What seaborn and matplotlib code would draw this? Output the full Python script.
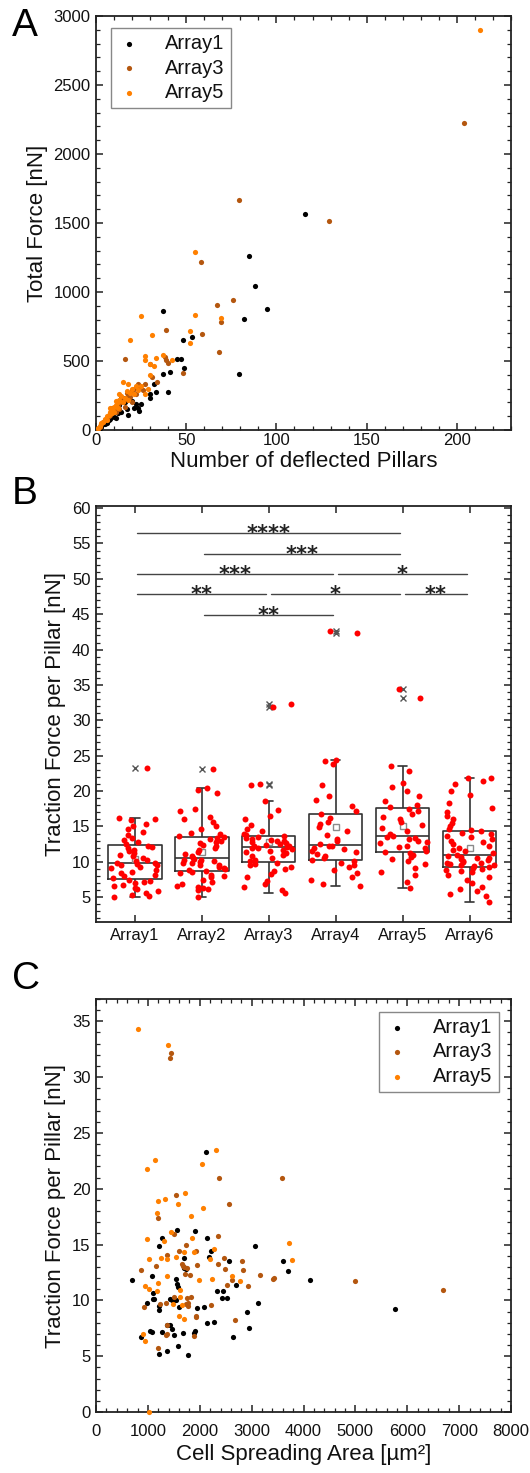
import numpy as np
import pandas as pd
import matplotlib
matplotlib.use("Agg")
import matplotlib.pyplot as plt
import seaborn as sns
from matplotlib.ticker import MultipleLocator

# ---------------- data ----------------
series_names = ["Array1", "Array3", "Array5"]
series_colors = ["#000000", "#B4570F", "#FF8000"]

# Panel A: number of deflected pillars vs total force [nN]
A1_pillars = [116, 85, 88, 95, 37, 82, 48, 53, 79, 45, 47, 49, 41, 37, 32, 30, 30, 33, 40, 25,
              24, 21, 23, 18, 15, 14, 19, 12, 10, 8, 6, 5, 3, 2, 1, 4, 7, 9, 11, 13,
              16, 17, 20, 22, 6, 3, 14, 11]
A1_force = [1567, 1263, 1043, 874, 865, 804, 650, 671, 408, 517, 512, 447, 420, 403, 331, 258, 229, 273, 278, 188,
            138, 157, 157, 109, 234, 229, 266, 120, 95, 80, 60, 45, 30, 15, 8, 40, 70, 100, 140, 180,
            200, 150, 210, 190, 50, 20, 130, 90]
A3_pillars = [204, 79, 129, 58, 67, 76, 69, 39, 59, 68, 16, 38, 39, 40, 48, 30, 31, 34, 23, 24,
              20, 18, 15, 12, 10, 8, 6, 4, 3, 2, 1, 14, 17, 19, 21, 22, 11, 9, 13, 7,
              5, 26, 27, 20, 16, 0]
A3_force = [2224, 1664, 1514, 1220, 908, 939, 782, 727, 698, 568, 512, 526, 507, 483, 415, 478, 386, 350, 333, 314,
            290, 250, 220, 180, 150, 110, 80, 60, 40, 20, 10, 200, 270, 240, 300, 260, 130, 160, 150, 100,
            70, 290, 330, 200, 170, 0]
A5_pillars = [213, 55, 55, 69, 25, 52, 31, 19, 52, 27, 27, 33, 37, 42, 30, 32, 30, 15, 18, 25,
              29, 27, 20, 17, 14, 13, 12, 11, 10, 9, 8, 7, 6, 5, 4, 3, 2, 1, 16, 19,
              21, 23, 15, 12, 10, 8, 11, 13, 18, 22, 6, 9]
A5_force = [2898, 1292, 831, 809, 826, 715, 691, 654, 633, 536, 505, 519, 546, 507, 478, 464, 398, 345, 333, 321,
            295, 261, 300, 280, 250, 220, 200, 180, 170, 150, 130, 110, 100, 80, 60, 50, 30, 15, 230, 270,
            260, 290, 200, 160, 130, 160, 210, 260, 220, 320, 70, 120]

# Panel B: traction force per pillar [nN] per array
box_categories = ["Array1", "Array2", "Array3", "Array4", "Array5", "Array6"]
B_array1 = [5.0, 5.2, 5.3, 5.6, 5.9, 6.1, 6.3, 6.6, 6.8, 7.0, 7.2, 7.3,
            7.5, 7.7, 8.0, 8.2, 8.4, 8.6, 8.9, 9.1, 9.3, 9.5, 9.6, 9.7, 9.8,
            9.9, 10.1, 10.3, 10.5, 10.8, 11.0, 11.2, 11.5, 11.7, 11.9, 12.1, 12.3,
            12.5, 12.8, 13.1, 13.4, 13.8, 14.2, 14.6, 15.1, 15.4, 15.9, 16.0, 16.2, 23.3]
B_array2 = [5.1, 6.0, 6.1, 6.3, 6.4, 6.6, 6.9, 7.2, 7.5, 7.8, 8.0, 8.2, 8.4, 8.5,
            8.7, 8.9, 9.0, 9.2, 9.3, 9.5, 9.6, 9.8, 9.9, 10.0, 10.1, 10.2, 10.3, 10.4,
            10.6, 10.8, 11.1, 11.4, 11.7, 12.0, 12.2, 12.4, 12.6, 12.8, 13.0, 13.2, 13.4, 13.5,
            13.7, 13.9, 14.1, 14.6, 15.0, 15.6, 16.0, 16.3, 17.2, 17.5, 19.7, 20.1, 20.4, 23.1]
B_array3 = [5.6, 6.0, 6.4, 6.9, 7.3, 7.8, 8.3, 8.7, 9.0, 9.3, 9.5, 9.7, 9.9,
            10.1, 10.3, 10.5, 10.8, 11.0, 11.2, 11.4, 11.5, 11.7, 11.8, 11.9, 12.0, 12.1,
            12.2, 12.3, 12.4, 12.5, 12.6, 12.8, 12.9, 13.0, 13.1, 13.3, 13.4, 13.5, 13.6,
            13.8, 14.0, 14.3, 14.6, 15.2, 16.0, 16.5, 17.4, 18.6, 20.9, 21.0, 31.9, 32.3]
B_array4 = [6.6, 6.9, 7.4, 7.9, 8.4, 8.8, 9.3, 9.6, 9.9, 10.1,
            10.3, 10.5, 10.8, 11.1, 11.4, 11.6, 11.8, 12.0, 12.2, 12.3,
            12.5, 12.9, 13.3, 13.8, 14.3, 14.9, 15.3, 15.7, 16.2, 16.7,
            17.2, 17.9, 18.8, 19.3, 20.8, 23.8, 24.2, 24.4, 42.3, 42.6]
B_array5 = [6.3, 7.2, 8.1, 8.6, 9.2, 9.7, 10.1, 10.4, 10.7, 11.0, 11.2,
            11.4, 11.6, 11.9, 12.1, 12.3, 12.6, 12.8, 13.0, 13.2, 13.4, 13.5,
            13.7, 14.0, 14.4, 14.8, 15.2, 15.6, 16.0, 16.4, 16.8, 17.2, 17.5,
            17.7, 18.1, 18.6, 19.3, 20.0, 20.6, 21.2, 22.8, 23.5, 33.1, 34.5]
B_array6 = [4.3, 5.2, 5.5, 5.9, 6.2, 6.5, 7.0, 7.5, 7.8, 8.2, 8.5, 8.7, 8.9, 9.0, 9.1,
            9.3, 9.4, 9.5, 9.6, 9.7, 9.8, 9.9, 10.0, 10.1, 10.3, 10.4, 10.5, 10.6, 10.7, 10.8,
            11.0, 11.2, 11.5, 11.7, 12.0, 12.2, 12.5, 12.8, 13.0, 13.3, 13.5, 13.7, 13.9, 14.1, 14.3,
            14.5, 14.7, 15.0, 15.5, 16.0, 16.5, 17.0, 17.6, 18.3, 19.4, 20.0, 21.0, 21.4, 21.8, 21.9]

sig_pairs = [(0, 4), (1, 4), (0, 3), (3, 5), (0, 2), (2, 4), (4, 5), (1, 3)]
sig_levels = [56.5, 53.5, 50.7, 50.7, 47.8, 47.8, 47.8, 44.9]
sig_labels = ["****", "***", "***", "*", "**", "*", "**", "**"]

# Panel C: cell spreading area [um^2] vs traction force per pillar [nN]
C1_area = [2119, 1558, 1906, 1275, 2132, 1224, 3065, 2222, 2170, 1700, 2557, 3606, 1700, 1739, 3703,
           1076, 1533, 696, 4134, 2692, 1558, 1578, 2338, 2447, 1108, 1095, 1127, 1417, 1513, 1468,
           1546, 2428, 2524, 3130, 985, 1224, 1224, 1597, 1945, 2080, 5757, 2917, 2132, 2267, 1436,
           1372, 1468, 1043, 1082, 1275, 1681, 1900, 1887, 2943, 1507, 2640, 869, 1584, 1372, 1224, 1771]
C1_force = [23.3, 16.3, 16.2, 15.6, 15.6, 14.9, 14.85, 14.4, 13.9, 13.8, 13.5, 13.5, 12.9, 12.8, 12.6,
            12.2, 11.9, 11.8, 11.8, 11.4, 11.5, 11.2, 10.8, 10.8, 10.7, 10.15, 10.1, 10.1, 10.0, 10.0,
            10.0, 10.2, 10.2, 9.8, 9.8, 9.5, 9.1, 9.4, 9.3, 9.4, 9.2, 9.0, 8.0, 8.1, 7.8,
            7.8, 7.4, 7.3, 7.2, 7.2, 7.1, 7.3, 7.1, 7.5, 6.9, 6.7, 6.7, 5.9, 5.45, 5.2, 5.1]
C3_area = [1455, 1430, 2364, 3587, 1533, 2557, 1198, 1513, 2351, 1732, 1597, 1919, 1365, 2473, 2814,
           1153, 1649, 2357, 1939, 1700, 1758, 1680, 2480, 2834, 869, 1720, 3168, 1810, 4991, 3407,
           3433, 2628, 2531, 2930, 6698, 1835, 1758, 1494, 1340, 1237, 1778, 1739, 2209, 934, 1771,
           1919, 1919, 2673, 1365, 1365, 1352, 1880, 1198]
C3_force = [32.2, 31.7, 21.0, 21.0, 19.4, 18.6, 17.4, 15.96, 15.8, 15.0, 14.4, 14.4, 14.1, 13.8, 13.5,
            13.1, 13.3, 13.3, 13.2, 13.0, 12.9, 13.1, 12.8, 12.7, 12.75, 12.4, 12.3, 12.3, 11.7, 11.9,
            12.0, 11.8, 11.4, 11.3, 10.9, 10.3, 10.2, 10.3, 9.76, 9.7, 9.8, 9.7, 9.6, 9.4, 9.5,
            8.6, 8.5, 8.2, 7.8, 7.0, 6.9, 6.8, 5.75]
C5_area = [805, 1385, 2305, 1146, 985, 2041, 1720, 1327, 1198, 1584, 2067, 1185, 1835, 1449, 1848,
           985, 1314, 3722, 2267, 1694, 1880, 1546, 2202, 1256, 1030, 1365, 3787, 2621, 1372, 1990,
           2235, 2782, 1191, 953, 1030, 1172, 1623, 1610, 1481, 1662, 1591, 1694, 908, 953, 1018]
C5_force = [34.3, 32.9, 23.5, 22.6, 21.8, 22.2, 19.6, 19.1, 18.9, 18.6, 18.3, 17.8, 17.6, 16.1, 15.6,
            15.5, 15.3, 15.1, 14.6, 14.3, 14.3, 13.9, 13.7, 13.8, 13.7, 13.7, 13.6, 12.2, 12.2, 11.8,
            11.9, 11.7, 11.6, 11.3, 11.0, 10.8, 10.9, 10.3, 9.7, 9.6, 8.6, 8.3, 7.0, 6.4, 0.0]

# ---------------- style ----------------
sns.set_theme(style="white")
plt.rcParams['font.family'] = ['Liberation Sans', 'DejaVu Sans']
plt.rcParams['axes.edgecolor'] = '#222222'
plt.rcParams['xtick.color'] = '#222222'
plt.rcParams['ytick.color'] = '#222222'
plt.rcParams['xtick.labelcolor'] = '#111111'
plt.rcParams['ytick.labelcolor'] = '#111111'
plt.rcParams['text.color'] = '#111111'
plt.rcParams['axes.labelcolor'] = '#111111'

W, H = 530, 1473
fig = plt.figure(figsize=(W / 100, H / 100), dpi=100)
fig.patch.set_facecolor('white')

def rect(left, top, right, bottom):
    return [left / W, 1 - bottom / H, (right - left) / W, (bottom - top) / H]

axA = fig.add_axes(rect(96, 16, 511, 430))
axB = fig.add_axes(rect(96, 506, 511, 922))
axC = fig.add_axes(rect(96, 999, 511, 1412))

def style_axes(ax):
    for sp in ax.spines.values():
        sp.set_visible(True)
        sp.set_linewidth(1.3)
        sp.set_color('#222222')
    ax.tick_params(which='both', direction='in', top=True, right=True,
                   bottom=True, left=True, labelsize=12, pad=4)
    ax.tick_params(which='major', length=5, width=1.1)
    ax.tick_params(which='minor', length=3, width=0.9)

def legend(ax, **kw):
    lg = ax.legend(fontsize=14.5, frameon=True, fancybox=False, edgecolor='#888888',
                   framealpha=1, handletextpad=1.2, handlelength=1.2, borderpad=0.3,
                   labelspacing=0.28, markerscale=1.0, borderaxespad=0, **kw)
    lg.get_frame().set_linewidth(1.0)
    return lg

# ---------------- Panel A ----------------
A_x = [A1_pillars, A3_pillars, A5_pillars]
A_y = [A1_force, A3_force, A5_force]
for name, col, xs, ys in zip(series_names, series_colors, A_x, A_y):
    sns.scatterplot(x=xs, y=ys, color=col, s=14, linewidth=0, label=name, ax=axA, zorder=3)
axA.set_xlim(0, 230)
axA.set_ylim(0, 3000)
axA.xaxis.set_major_locator(MultipleLocator(50))
axA.xaxis.set_minor_locator(MultipleLocator(10))
axA.yaxis.set_major_locator(MultipleLocator(500))
axA.yaxis.set_minor_locator(MultipleLocator(100))
style_axes(axA)
axA.tick_params(axis='x', pad=2)
axA.set_xlabel("Number of deflected Pillars", fontsize=16, labelpad=2)
axA.set_ylabel("Total Force [nN]", fontsize=16, labelpad=4)
legend(axA, loc='upper left', bbox_to_anchor=(0.036, 0.971))

# ---------------- Panel B ----------------
B_values = [B_array1, B_array2, B_array3, B_array4, B_array5, B_array6]
dfB = pd.DataFrame({
    "Array": np.concatenate([[c] * len(v) for c, v in zip(box_categories, B_values)]),
    "Force": np.concatenate(B_values),
})
sns.boxplot(data=dfB, x="Array", y="Force", order=box_categories, width=0.8, fill=False,
            color="#333333", linewidth=1.2, whis=1.5, showmeans=True,
            meanprops=dict(marker='s', markerfacecolor='white', markeredgecolor='#8a8a8a',
                           markersize=5, markeredgewidth=1),
            flierprops=dict(marker='x', markeredgecolor='#555555', markersize=5, markeredgewidth=1),
            capwidths=0.14, ax=axB, zorder=2)
np.random.seed(7)
sns.stripplot(data=dfB, x="Array", y="Force", order=box_categories, color="#FF0000",
              size=4.3, jitter=0.37, linewidth=0, ax=axB, zorder=3)
for (i, j), yv, lab in zip(sig_pairs, sig_levels, sig_labels):
    x0, x1 = i + 0.03, j - 0.04
    axB.plot([x0, x1], [yv, yv], color='#444444', lw=1.0, zorder=4)
    axB.annotate(lab, xy=((x0 + x1) / 2, yv), xytext=(0, -5), textcoords='offset points',
                 ha='center', va='baseline', fontsize=15, fontweight='bold',
                 family='DejaVu Sans', color='#222222')
axB.set_xlim(-0.58, 5.62)
axB.set_ylim(1.5, 60.3)
axB.yaxis.set_major_locator(MultipleLocator(5))
axB.yaxis.set_minor_locator(MultipleLocator(1))
style_axes(axB)
axB.tick_params(axis='x', which='minor', bottom=False, top=False)
axB.set_xlabel("")
axB.set_ylabel("Traction Force per Pillar [nN]", fontsize=16, labelpad=4)

# ---------------- Panel C ----------------
C_x = [C1_area, C3_area, C5_area]
C_y = [C1_force, C3_force, C5_force]
for name, col, xs, ys in zip(series_names, series_colors, C_x, C_y):
    sns.scatterplot(x=xs, y=ys, color=col, s=14, linewidth=0, label=name, ax=axC, zorder=3,
                    clip_on=False)
axC.set_xlim(0, 8000)
axC.set_ylim(0, 37)
axC.xaxis.set_major_locator(MultipleLocator(1000))
axC.xaxis.set_minor_locator(MultipleLocator(200))
axC.yaxis.set_major_locator(MultipleLocator(5))
axC.yaxis.set_minor_locator(MultipleLocator(1))
style_axes(axC)
axC.tick_params(axis='x', pad=9)
axC.set_xlabel("Cell Spreading Area [µm²]", fontsize=16, labelpad=3)
axC.set_ylabel("Traction Force per Pillar [nN]", fontsize=16, labelpad=4)
legend(axC, loc='upper right', bbox_to_anchor=(0.971, 0.969))

# panel letters
for letter, top in zip(["A", "B", "C"], [8, 476, 961]):
    fig.text(12 / W, 1 - top / H, letter, fontsize=28, ha='left', va='top', color='black')

fig.savefig("out.png", dpi=100, facecolor='white')
